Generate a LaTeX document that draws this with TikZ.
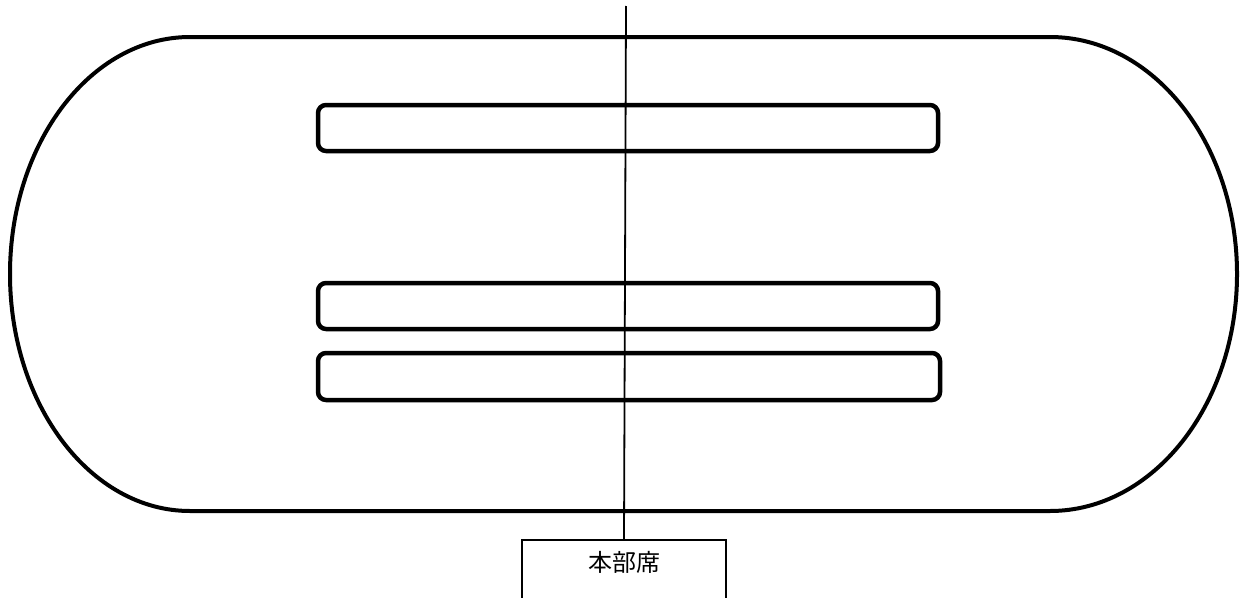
\documentclass[tikz,border=0pt]{standalone}
\usepackage{fontspec}
\newfontfamily\cjk{Noto Sans CJK JP}
\begin{document}
\begin{tikzpicture}[x=1pt,y=1pt,
  lane/.style={draw, line width=4.5pt, rounded corners=8pt, minimum width=620pt, minimum height=46pt, inner sep=0pt},
  hqbox/.style={draw, line width=1.5pt, minimum width=204pt, minimum height=80pt, inner sep=0pt, anchor=north},
  axis/.style={line width=1.8pt}]
\useasboundingbox (0,0) rectangle (1247,-597);
% track
\draw[line width=4pt] (190,-37) -- (1050,-37)
  arc[start angle=90, end angle=-90, x radius=187, y radius=237]
  -- (190,-511)
  arc[start angle=270, end angle=90, x radius=180, y radius=237] -- cycle;
% lanes
\node (r1) [lane] at (628,-128) {};
\node (r2) [lane] at (628,-306) {};
\node (r3) [lane, minimum width=622pt, minimum height=47pt] at (629,-376.5) {};
% headquarters box
\node (hq) [hqbox] at (624,-539) {};
\node (hqtext) at ([yshift=-23pt]hq.north) {\cjk\fontsize{24}{28}\selectfont 本部席};
% axis line
\coordinate (top) at (626,-6);
\draw[axis] (top) -- (hq.north);
\end{tikzpicture}
\end{document}
